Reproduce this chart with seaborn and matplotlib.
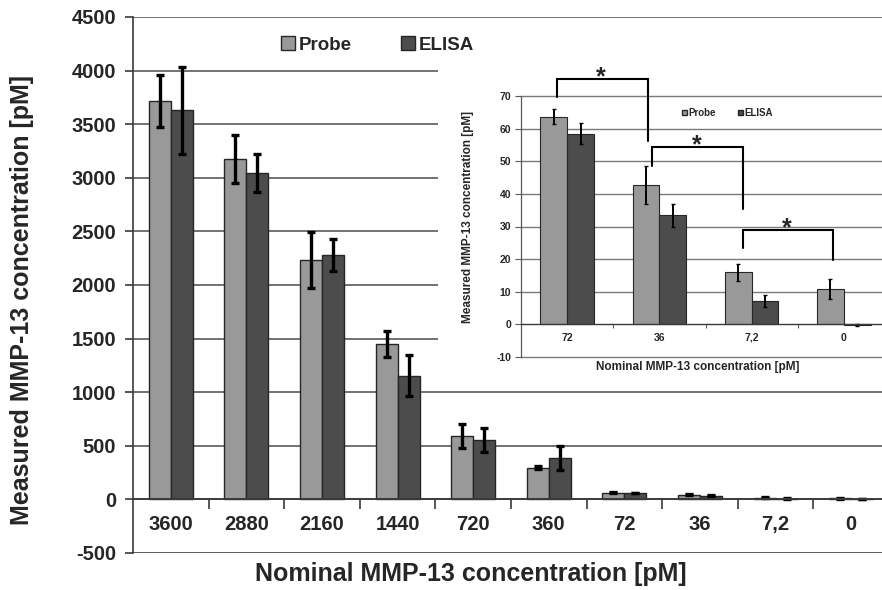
import numpy as np
import pandas as pd
import matplotlib
matplotlib.use("Agg")
import matplotlib.pyplot as plt
from matplotlib.patches import Rectangle, Patch
import seaborn as sns

# Nominal concentrations (pM) and measured results
nominal = ["3600", "2880", "2160", "1440", "720", "360", "72", "36", "7,2", "0"]
probe_mean = [3720, 3175, 2230, 1450, 595, 296, 63.6, 42.8, 16.0, 10.9]
elisa_mean = [3630, 3045, 2280, 1155, 554, 389, 58.5, 33.4, 7.2, -0.3]
probe_sd = [242, 222, 262, 125, 113, 16, 2.3, 5.8, 2.6, 3.0]
elisa_sd = [404, 173, 150, 188, 109, 112, 3.3, 3.4, 1.9, 0.3]
methods = ["Probe", "ELISA"]

main_ticks = [-500, 0, 500, 1000, 1500, 2000, 2500, 3000, 3500, 4000, 4500]
inset_ticks = [-10, 0, 10, 20, 30, 40, 50, 60, 70]
inset_n = 4  # lowest concentrations shown enlarged

COL_PROBE = "#999999"
COL_ELISA = "#4c4c4c"
FONT = "Liberation Sans"

sns.set_theme(style="white")
plt.rcParams["font.family"] = [FONT, "DejaVu Sans"]
plt.rcParams["font.weight"] = "bold"

df = pd.DataFrame({
    "nominal": nominal * 2,
    "value": probe_mean + elisa_mean,
    "sd": probe_sd + elisa_sd,
    "method": ["Probe"] * len(nominal) + ["ELISA"] * len(nominal),
})

W, H = 882, 590
fig = plt.figure(figsize=(W / 100, H / 100), dpi=100)
fig.patch.set_facecolor("white")


def fx(px):
    return px / W


def fy(py):
    return 1 - py / H


def bars_with_errors(ax, data, order, lw_edge, elw, cap, capt):
    sns.barplot(data=data, x="nominal", y="value", hue="method", order=order,
                hue_order=methods, palette=[COL_PROBE, COL_ELISA], width=0.58,
                errorbar=None, edgecolor="#262626", linewidth=lw_edge,
                legend=False, ax=ax, zorder=3)
    for cont, m in zip(ax.containers, methods):
        sub = data[data["method"] == m].set_index("nominal").loc[order]
        xs = [p.get_x() + p.get_width() / 2 for p in cont]
        ax.errorbar(xs, sub["value"].values, yerr=sub["sd"].values, fmt="none",
                    ecolor="black", elinewidth=elw, capsize=cap, capthick=capt,
                    zorder=4)


# ---------------- main chart ----------------
ax = fig.add_axes([fx(133), fy(553), fx(756), (553 - 17) / H])
bars_with_errors(ax, df, nominal, 1.0, 2.4, 3.2, 2.4)
ax.set_xlim(-0.5, len(nominal) - 0.5)
ax.set_ylim(-500, 4500)
ax.set_yticks(main_ticks)
ax.set_yticklabels([str(t) for t in main_ticks], fontsize=14.5, fontweight="bold")
for t in main_ticks:
    if t == 0:
        continue
    ax.axhline(t, color="#5a5a5a" if t != -500 else "#4a4a4a",
               lw=1.2 if t != -500 else 2.0, zorder=1)
ax.spines["bottom"].set_position(("data", 0))
ax.spines["bottom"].set_color("#3a3a3a")
ax.spines["bottom"].set_linewidth(1.4)
ax.spines["bottom"].set_zorder(5)
ax.spines["left"].set_color("#3a3a3a")
ax.spines["left"].set_linewidth(1.2)
for s in ("top", "right"):
    ax.spines[s].set_visible(False)
ax.set_xticks(range(len(nominal)))
ax.set_xticklabels(nominal, fontsize=14.5, fontweight="bold")
ax.set_xticks(np.arange(0.5, len(nominal) - 0.5, 1), minor=True)
ax.tick_params(axis="x", which="both", bottom=True)
ax.tick_params(axis="x", which="major", length=0, pad=11)
ax.tick_params(axis="x", which="minor", length=7, width=1.2, color="#3a3a3a",
               direction="out")
ax.tick_params(axis="y", length=6, width=1.2, color="#3a3a3a", direction="out",
               pad=6, left=True)
ax.set_xlabel("")
ax.set_ylabel("")
ax.grid(False)

fig.text(fx(22), fy(300), "Measured MMP-13 concentration [pM]", rotation=90,
         ha="center", va="center", fontsize=18, fontweight="bold")
fig.text(fx(471), fy(574), "Nominal MMP-13 concentration [pM]",
         ha="center", va="center", fontsize=18, fontweight="bold")

# white backdrop for the enlarged view
fig.add_artist(Rectangle((fx(438), fy(388)), 1 - fx(438), fy(25) - fy(388),
                         transform=fig.transFigure, facecolor="white",
                         edgecolor="none", zorder=1))

leg_handles = [Patch(facecolor=COL_PROBE, edgecolor="#262626", lw=1),
               Patch(facecolor=COL_ELISA, edgecolor="#262626", lw=1)]
main_leg = fig.legend(leg_handles, methods, loc="center left",
                      bbox_to_anchor=(fx(281), fy(45)),
                      ncol=2, frameon=False, handlelength=0.75, handleheight=0.75,
                      handletextpad=0.2, columnspacing=2.6, borderpad=0,
                      borderaxespad=0,
                      prop={"family": FONT, "weight": "bold", "size": 13.5})
main_leg.set_zorder(5)

# ---------------- enlarged view of the lowest concentrations ----------------
low = nominal[-inset_n:]
df_in = df[df["nominal"].isin(low)]
axi = fig.add_axes([fx(521), fy(357), fx(369), (357 - 96) / H], zorder=2)
axi.patch.set_alpha(0)
bars_with_errors(axi, df_in, low, 0.8, 1.4, 1.6, 1.0)
axi.set_xlim(-0.5, inset_n - 0.5)
axi.set_ylim(-10, 70)
axi.set_yticks(inset_ticks)
axi.set_yticklabels([str(t) for t in inset_ticks], fontsize=7.5, fontweight="bold")
for t in inset_ticks:
    if t == 0:
        continue
    axi.axhline(t, color="#7a7a7a", lw=1.0, zorder=1, clip_on=False)
axi.spines["bottom"].set_position(("data", 0))
axi.spines["bottom"].set_color("#3a3a3a")
axi.spines["bottom"].set_linewidth(1.0)
axi.spines["bottom"].set_zorder(5)
axi.spines["left"].set_color("#5a5a5a")
axi.spines["left"].set_linewidth(0.9)
for s in ("top", "right"):
    axi.spines[s].set_visible(False)
axi.set_xticks(range(inset_n))
axi.set_xticklabels(low, fontsize=7.5, fontweight="bold")
axi.set_xticks(np.arange(0.5, inset_n - 0.5, 1), minor=True)
axi.tick_params(axis="x", which="both", bottom=True)
axi.tick_params(axis="x", which="major", length=0, pad=6)
axi.tick_params(axis="x", which="minor", length=3, width=0.8, color="#5a5a5a",
                direction="out")
axi.tick_params(axis="y", length=4, width=0.8, color="#5a5a5a", direction="out",
                pad=3, left=True)
axi.set_xlabel("")
axi.set_ylabel("")
axi.grid(False)

axi.legend(leg_handles, methods, loc="center left",
           bbox_to_anchor=(fx(682), fy(113)), bbox_transform=fig.transFigure,
           ncol=2, frameon=False, handlelength=0.55, handleheight=0.55,
           handletextpad=0.15, columnspacing=2.2, borderpad=0, borderaxespad=0,
           prop={"family": FONT, "weight": "bold", "size": 7})

fig.text(fx(468), fy(217), "Measured MMP-13 concentration [pM]", rotation=90,
         ha="center", va="center", fontsize=8.5, fontweight="bold")
fig.text(fx(698), fy(367), "Nominal MMP-13 concentration [pM]",
         ha="center", va="center", fontsize=8.5, fontweight="bold")

# significance brackets: (x start, y start, x end, y end, y top, x star)
brackets = [
    (-0.11, 69.7, 0.88, 56.2, 75.2, 0.37),
    (0.92, 48.6, 1.91, 35.5, 54.4, 1.40),
    (1.91, 23.5, 2.88, 19.6, 29.0, 2.38),
]
for x0, y0, x1, y1, ytop, xs in brackets:
    axi.plot([x0, x0, x1, x1], [y0, ytop, ytop, y1], color="black", lw=1.5,
             clip_on=False, zorder=6, solid_joinstyle="miter")
    axi.annotate("*", xy=(xs, ytop), xytext=(0, -4), textcoords="offset points",
                 ha="center", va="baseline", fontsize=18, fontweight="bold",
                 annotation_clip=False, zorder=6)

fig.savefig("out.png", dpi=100, facecolor="white")
